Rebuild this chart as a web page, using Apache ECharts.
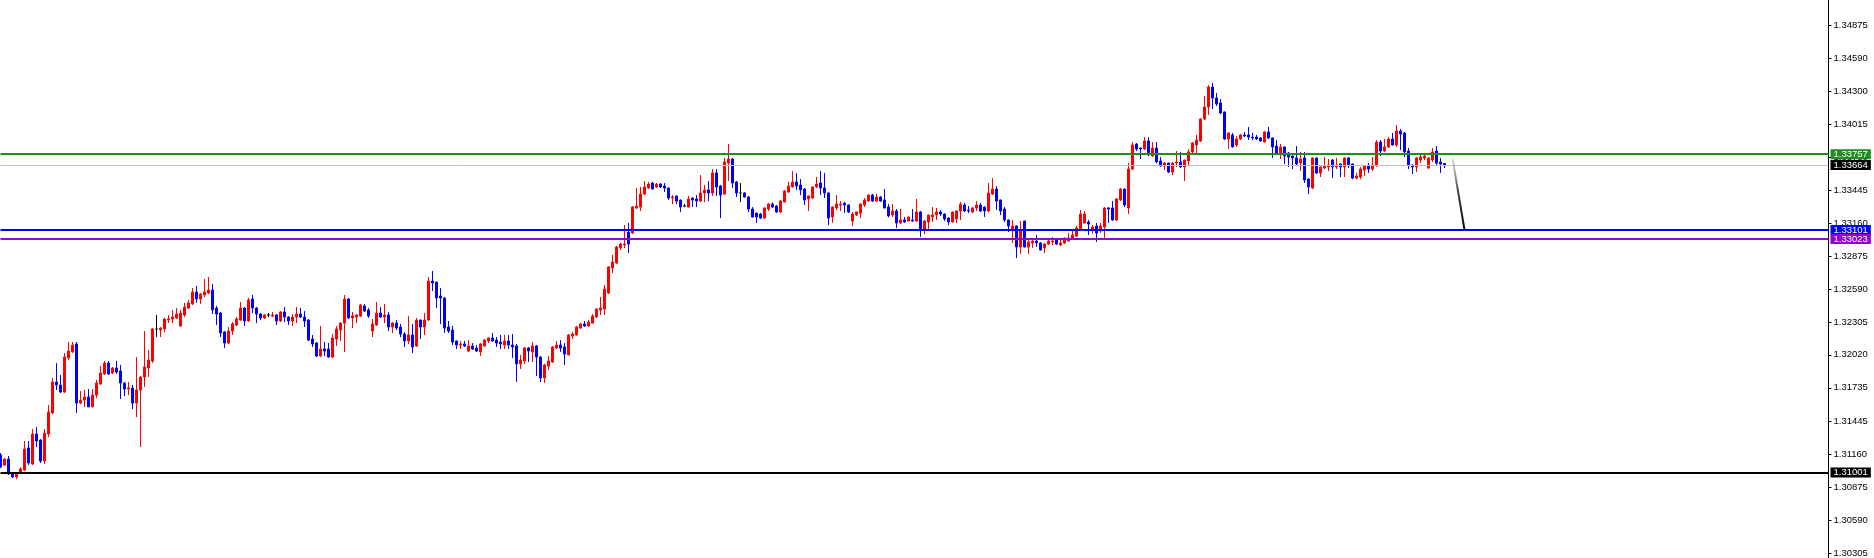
<!DOCTYPE html>
<html>
<head>
<meta charset="utf-8">
<script src="https://cdn.jsdelivr.net/npm/echarts@6/dist/echarts.min.js"></script>
<style>
html,body{margin:0;padding:0;background:#ffffff;}
#chart{width:1874px;height:558px;}
</style>
</head>
<body>
<div id="chart"></div>
<script>
// [open, close, low, high]
const candles = [
[1.31153,1.31049,1.31040,1.31170],[1.31066,1.31118,1.31058,1.31127],[1.31118,1.30989,1.30980,1.31144],[1.30997,1.30963,1.30954,1.31006],
[1.30963,1.30989,1.30945,1.31006],[1.30997,1.31032,1.30989,1.31049],[1.31023,1.31205,1.31015,1.31274],[1.31214,1.31084,1.31066,1.31274],
[1.31075,1.31335,1.31066,1.31378],[1.31335,1.31274,1.31222,1.31395],[1.31283,1.31101,1.31084,1.31292],[1.31101,1.31343,1.31075,1.31378],
[1.31335,1.31525,1.31309,1.31586],[1.31517,1.31785,1.31508,1.31820],[1.31785,1.31759,1.31716,1.31949],[1.31759,1.31698,1.31690,1.31845],
[1.31698,1.32001,1.31690,1.32036],[1.31993,1.32053,1.31975,1.32131],[1.32045,1.32105,1.32036,1.32131],[1.32114,1.31603,1.31517,1.32131],
[1.31603,1.31629,1.31594,1.31707],[1.31629,1.31655,1.31568,1.31716],[1.31655,1.31570,1.31568,1.31724],[1.31570,1.31672,1.31568,1.31724],
[1.31672,1.31776,1.31646,1.31802],[1.31768,1.31863,1.31759,1.31923],[1.31854,1.31949,1.31845,1.31967],[1.31949,1.31854,1.31845,1.31967],
[1.31863,1.31906,1.31854,1.31915],[1.31906,1.31871,1.31854,1.31967],[1.31880,1.31776,1.31638,1.31932],[1.31776,1.31724,1.31664,1.31785],
[1.31724,1.31733,1.31672,1.31785],[1.31733,1.31603,1.31551,1.31759],[1.31603,1.31716,1.31482,1.32001],[1.31716,1.31828,1.31222,1.31837],
[1.31828,1.31915,1.31742,1.32226],[1.31906,1.31975,1.31828,1.32062],[1.31967,1.32244,1.31949,1.32252],[1.32244,1.32244,1.32174,1.32365],
[1.32235,1.32252,1.32174,1.32261],[1.32244,1.32330,1.32218,1.32339],[1.32321,1.32330,1.32295,1.32365],[1.32330,1.32347,1.32295,1.32408],
[1.32339,1.32373,1.32330,1.32425],[1.32270,1.32382,1.32261,1.32408],[1.32365,1.32434,1.32347,1.32469],[1.32425,1.32469,1.32417,1.32495],
[1.32460,1.32564,1.32451,1.32598],[1.32564,1.32503,1.32469,1.32616],[1.32503,1.32546,1.32460,1.32555],[1.32538,1.32564,1.32520,1.32676],
[1.32555,1.32581,1.32546,1.32694],[1.32581,1.32408,1.32373,1.32633],[1.32425,1.32373,1.32278,1.32443],[1.32382,1.32209,1.32174,1.32391],
[1.32218,1.32122,1.32079,1.32226],[1.32122,1.32226,1.32114,1.32261],[1.32226,1.32287,1.32192,1.32304],[1.32278,1.32330,1.32270,1.32347],
[1.32321,1.32425,1.32313,1.32477],[1.32425,1.32313,1.32270,1.32434],[1.32313,1.32495,1.32304,1.32512],[1.32503,1.32425,1.32382,1.32538],
[1.32425,1.32373,1.32295,1.32434],[1.32373,1.32339,1.32321,1.32382],[1.32339,1.32365,1.32330,1.32373],[1.32365,1.32365,1.32347,1.32382],
[1.32356,1.32365,1.32347,1.32391],[1.32365,1.32313,1.32278,1.32373],[1.32313,1.32391,1.32304,1.32399],[1.32391,1.32347,1.32304,1.32434],
[1.32347,1.32313,1.32278,1.32356],[1.32313,1.32347,1.32270,1.32373],[1.32347,1.32373,1.32295,1.32434],[1.32373,1.32347,1.32339,1.32425],
[1.32347,1.32313,1.32261,1.32399],[1.32321,1.32148,1.32140,1.32330],[1.32157,1.32114,1.32088,1.32192],[1.32122,1.32010,1.32001,1.32131],
[1.32010,1.32070,1.32001,1.32270],[1.32070,1.32053,1.32010,1.32131],[1.32070,1.32001,1.31993,1.32122],[1.32001,1.32166,1.31993,1.32200],
[1.32157,1.32244,1.32097,1.32270],[1.32235,1.32295,1.32140,1.32304],[1.32295,1.32503,1.32045,1.32538],[1.32503,1.32339,1.32330,1.32512],
[1.32339,1.32356,1.32252,1.32391],[1.32347,1.32365,1.32295,1.32373],[1.32356,1.32451,1.32347,1.32460],[1.32443,1.32399,1.32391,1.32460],
[1.32408,1.32356,1.32339,1.32425],[1.32226,1.32287,1.32174,1.32330],[1.32278,1.32382,1.32270,1.32477],[1.32382,1.32347,1.32339,1.32434],
[1.32347,1.32365,1.32295,1.32460],[1.32365,1.32261,1.32226,1.32391],[1.32261,1.32295,1.32209,1.32304],[1.32295,1.32252,1.32235,1.32321],
[1.32261,1.32200,1.32174,1.32287],[1.32200,1.32140,1.32088,1.32218],[1.32140,1.32192,1.32114,1.32356],[1.32192,1.32088,1.32036,1.32287],
[1.32097,1.32321,1.32088,1.32339],[1.32321,1.32261,1.32157,1.32326],[1.32261,1.32321,1.32192,1.32382],[1.32321,1.32659,1.32313,1.32694],
[1.32659,1.32642,1.32572,1.32746],[1.32650,1.32512,1.32425,1.32653],[1.32529,1.32512,1.32287,1.32598],[1.32512,1.32252,1.32209,1.32520],
[1.32261,1.32226,1.32209,1.32313],[1.32235,1.32131,1.32105,1.32270],[1.32140,1.32105,1.32070,1.32144],[1.32105,1.32114,1.32070,1.32140],
[1.32114,1.32097,1.32088,1.32140],[1.32053,1.32097,1.32045,1.32148],[1.32097,1.32070,1.32062,1.32122],[1.32079,1.32053,1.32045,1.32105],
[1.32045,1.32114,1.32010,1.32122],[1.32097,1.32148,1.32088,1.32157],[1.32140,1.32166,1.32122,1.32170],[1.32166,1.32140,1.32136,1.32209],
[1.32148,1.32122,1.32088,1.32174],[1.32131,1.32114,1.32070,1.32192],[1.32105,1.32140,1.32070,1.32192],[1.32140,1.32105,1.32070,1.32192],
[1.32105,1.32088,1.31993,1.32200],[1.32097,1.31941,1.31785,1.32114],[1.31941,1.31975,1.31897,1.32019],[1.31967,1.32079,1.31941,1.32088],
[1.32079,1.32053,1.31958,1.32088],[1.32045,1.32097,1.31958,1.32131],[1.32097,1.32001,1.31837,1.32105],[1.32001,1.31820,1.31785,1.32010],
[1.31820,1.31932,1.31776,1.31941],[1.31923,1.31967,1.31889,1.32010],[1.31958,1.32088,1.31949,1.32097],[1.32079,1.32105,1.32070,1.32140],
[1.32105,1.32079,1.32045,1.32148],[1.32088,1.32027,1.31932,1.32122],[1.32019,1.32192,1.32015,1.32200],[1.32183,1.32200,1.32157,1.32218],
[1.32192,1.32261,1.32188,1.32270],[1.32252,1.32287,1.32244,1.32295],[1.32287,1.32270,1.32261,1.32313],[1.32270,1.32304,1.32261,1.32321],
[1.32295,1.32356,1.32291,1.32373],[1.32347,1.32417,1.32339,1.32420],[1.32408,1.32425,1.32365,1.32520],[1.32417,1.32590,1.32365,1.32624],
[1.32555,1.32780,1.32546,1.32789],[1.32772,1.32823,1.32728,1.32884],[1.32815,1.32953,1.32806,1.32962],[1.32945,1.32979,1.32927,1.32988],
[1.32971,1.32979,1.32945,1.33144],[1.33083,1.32979,1.32901,1.33161],[1.33074,1.33299,1.33066,1.33308],[1.33291,1.33308,1.33282,1.33464],
[1.33299,1.33412,1.33265,1.33473],[1.33412,1.33473,1.33403,1.33524],[1.33464,1.33498,1.33455,1.33516],[1.33507,1.33455,1.33450,1.33516],
[1.33473,1.33498,1.33464,1.33507],[1.33498,1.33473,1.33464,1.33507],[1.33481,1.33464,1.33429,1.33507],[1.33464,1.33377,1.33360,1.33468],
[1.33377,1.33386,1.33325,1.33403],[1.33395,1.33351,1.33325,1.33399],[1.33360,1.33299,1.33256,1.33364],[1.33308,1.33308,1.33299,1.33325],
[1.33299,1.33369,1.33295,1.33395],[1.33377,1.33360,1.33299,1.33381],[1.33369,1.33351,1.33299,1.33403],[1.33351,1.33421,1.33343,1.33576],
[1.33421,1.33447,1.33343,1.33490],[1.33447,1.33421,1.33351,1.33524],[1.33421,1.33594,1.33395,1.33628],[1.33594,1.33473,1.33395,1.33628],
[1.33481,1.33403,1.33204,1.33490],[1.33412,1.33689,1.33403,1.33724],[1.33680,1.33715,1.33524,1.33845],[1.33715,1.33507,1.33464,1.33724],
[1.33516,1.33421,1.33386,1.33524],[1.33421,1.33421,1.33343,1.33507],[1.33421,1.33386,1.33382,1.33429],[1.33386,1.33282,1.33256,1.33395],
[1.33282,1.33213,1.33210,1.33299],[1.33247,1.33213,1.33161,1.33250],[1.33239,1.33204,1.33195,1.33247],[1.33204,1.33291,1.33200,1.33295],
[1.33282,1.33325,1.33265,1.33334],[1.33325,1.33299,1.33291,1.33340],[1.33308,1.33256,1.33247,1.33317],[1.33256,1.33351,1.33247,1.33360],
[1.33343,1.33438,1.33338,1.33447],[1.33429,1.33481,1.33421,1.33516],[1.33473,1.33516,1.33468,1.33611],[1.33516,1.33481,1.33447,1.33594],
[1.33490,1.33447,1.33403,1.33542],[1.33455,1.33360,1.33317,1.33464],[1.33369,1.33395,1.33265,1.33399],[1.33377,1.33473,1.33369,1.33477],
[1.33473,1.33498,1.33464,1.33559],[1.33507,1.33464,1.33403,1.33611],[1.33464,1.33421,1.33377,1.33594],[1.33421,1.33204,1.33144,1.33425],
[1.33213,1.33299,1.33161,1.33304],[1.33291,1.33325,1.33273,1.33403],[1.33317,1.33325,1.33265,1.33351],[1.33334,1.33317,1.33247,1.33338],
[1.33317,1.33256,1.33247,1.33321],[1.33178,1.33239,1.33135,1.33256],[1.33230,1.33256,1.33221,1.33260],[1.33247,1.33325,1.33204,1.33330],
[1.33317,1.33360,1.33299,1.33377],[1.33351,1.33403,1.33347,1.33408],[1.33403,1.33351,1.33343,1.33412],[1.33351,1.33386,1.33343,1.33412],
[1.33386,1.33351,1.33343,1.33395],[1.33360,1.33291,1.33287,1.33455],[1.33299,1.33222,1.33210,1.33325],[1.33230,1.33265,1.33213,1.33325],
[1.33265,1.33161,1.33118,1.33282],[1.33161,1.33187,1.33152,1.33282],[1.33187,1.33170,1.33161,1.33213],[1.33178,1.33213,1.33174,1.33217],
[1.33187,1.33178,1.33170,1.33282],[1.33178,1.33256,1.33170,1.33369],[1.33256,1.33100,1.33040,1.33265],[1.33109,1.33178,1.33066,1.33187],
[1.33170,1.33230,1.33109,1.33234],[1.33213,1.33230,1.33170,1.33299],[1.33230,1.33256,1.33187,1.33291],[1.33256,1.33239,1.33222,1.33273],
[1.33239,1.33196,1.33178,1.33243],[1.33204,1.33170,1.33144,1.33213],[1.33170,1.33256,1.33165,1.33260],[1.33196,1.33265,1.33161,1.33269],
[1.33265,1.33325,1.33187,1.33343],[1.33317,1.33265,1.33256,1.33334],[1.33273,1.33265,1.33247,1.33308],[1.33256,1.33291,1.33247,1.33299],
[1.33291,1.33317,1.33265,1.33351],[1.33317,1.33265,1.33256,1.33334],[1.33299,1.33265,1.33213,1.33304],[1.33265,1.33421,1.33256,1.33507],
[1.33412,1.33455,1.33403,1.33550],[1.33455,1.33351,1.33273,1.33481],[1.33360,1.33265,1.33230,1.33364],[1.33282,1.33187,1.33170,1.33299],
[1.33187,1.33135,1.33083,1.33191],[1.33100,1.33135,1.32988,1.33187],[1.33135,1.32953,1.32858,1.33139],[1.32953,1.33100,1.32893,1.33178],
[1.33178,1.32953,1.32950,1.33182],[1.32953,1.32997,1.32893,1.33014],[1.32988,1.33005,1.32945,1.33014],[1.33005,1.32988,1.32953,1.33057],
[1.32988,1.32927,1.32925,1.32997],[1.32945,1.32979,1.32901,1.32988],[1.32979,1.33005,1.32971,1.33031],[1.32997,1.33005,1.32971,1.33040],
[1.33022,1.32979,1.32971,1.33031],[1.32971,1.32988,1.32962,1.33031],[1.32988,1.33031,1.32979,1.33035],[1.33005,1.33031,1.33001,1.33074],
[1.33031,1.33057,1.33014,1.33092],[1.33048,1.33118,1.33040,1.33135],[1.33109,1.33239,1.33105,1.33273],[1.33161,1.33239,1.33157,1.33265],
[1.33170,1.33152,1.33057,1.33187],[1.33100,1.33126,1.33066,1.33144],[1.33135,1.33074,1.32997,1.33161],[1.33092,1.33135,1.33074,1.33161],
[1.33126,1.33291,1.33031,1.33299],[1.33291,1.33282,1.33161,1.33299],[1.33291,1.33187,1.33178,1.33351],[1.33187,1.33369,1.33178,1.33377],
[1.33360,1.33455,1.33351,1.33464],[1.33455,1.33317,1.33299,1.33459],[1.33291,1.33628,1.33239,1.33680],[1.33628,1.33836,1.33620,1.33862],
[1.33845,1.33801,1.33784,1.33853],[1.33810,1.33801,1.33715,1.33814],[1.33801,1.33871,1.33793,1.33905],[1.33871,1.33750,1.33741,1.33905],
[1.33741,1.33810,1.33732,1.33862],[1.33810,1.33689,1.33680,1.33862],[1.33698,1.33654,1.33646,1.33732],[1.33654,1.33680,1.33620,1.33689],
[1.33680,1.33602,1.33594,1.33684],[1.33602,1.33680,1.33576,1.33684],[1.33680,1.33689,1.33646,1.33784],[1.33689,1.33646,1.33641,1.33776],
[1.33646,1.33706,1.33524,1.33710],[1.33698,1.33776,1.33663,1.33801],[1.33776,1.33853,1.33767,1.33862],[1.33836,1.33879,1.33767,1.33923],
[1.33871,1.34061,1.33862,1.34065],[1.34061,1.34165,1.34052,1.34260],[1.34165,1.34338,1.34096,1.34355],[1.34338,1.34243,1.34148,1.34373],
[1.34243,1.34191,1.34174,1.34286],[1.34200,1.34113,1.34104,1.34234],[1.34122,1.33888,1.33879,1.34126],[1.33888,1.33940,1.33801,1.33944],
[1.33923,1.33819,1.33815,1.33940],[1.33836,1.33888,1.33819,1.33914],[1.33888,1.33923,1.33879,1.33931],[1.33923,1.33914,1.33905,1.33949],
[1.33923,1.33905,1.33879,1.33992],[1.33905,1.33897,1.33879,1.33940],[1.33905,1.33888,1.33879,1.33923],[1.33897,1.33871,1.33866,1.33905],
[1.33862,1.33949,1.33858,1.33957],[1.33949,1.33897,1.33888,1.33992],[1.33897,1.33819,1.33724,1.33901],[1.33827,1.33758,1.33750,1.33879],
[1.33767,1.33819,1.33715,1.33845],[1.33819,1.33741,1.33672,1.33823],[1.33767,1.33732,1.33646,1.33776],[1.33741,1.33724,1.33628,1.33745],
[1.33724,1.33672,1.33654,1.33827],[1.33680,1.33715,1.33611,1.33776],[1.33724,1.33533,1.33507,1.33776],[1.33542,1.33473,1.33412,1.33546],
[1.33464,1.33724,1.33455,1.33728],[1.33724,1.33594,1.33585,1.33728],[1.33594,1.33646,1.33559,1.33650],[1.33637,1.33654,1.33628,1.33732],
[1.33646,1.33663,1.33611,1.33715],[1.33706,1.33646,1.33550,1.33715],[1.33646,1.33663,1.33628,1.33724],[1.33672,1.33646,1.33559,1.33676],
[1.33646,1.33724,1.33559,1.33728],[1.33724,1.33663,1.33637,1.33732],[1.33672,1.33550,1.33539,1.33676],[1.33550,1.33568,1.33539,1.33594],
[1.33559,1.33628,1.33539,1.33646],[1.33620,1.33654,1.33568,1.33663],[1.33654,1.33628,1.33594,1.33680],[1.33628,1.33663,1.33611,1.33732],
[1.33654,1.33862,1.33650,1.33879],[1.33862,1.33784,1.33741,1.33879],[1.33784,1.33819,1.33776,1.33888],[1.33819,1.33888,1.33810,1.33905],
[1.33888,1.33836,1.33832,1.33940],[1.33836,1.33957,1.33819,1.34009],[1.33957,1.33931,1.33793,1.33975],[1.33940,1.33776,1.33732,1.33949],
[1.33784,1.33663,1.33628,1.33810],[1.33663,1.33646,1.33585,1.33667],[1.33646,1.33724,1.33602,1.33732],[1.33706,1.33732,1.33680,1.33750],
[1.33724,1.33741,1.33706,1.33767],[1.33637,1.33724,1.33628,1.33728],[1.33706,1.33776,1.33689,1.33810],[1.33784,1.33680,1.33654,1.33827],
[1.33689,1.33672,1.33594,1.33724],[1.33676,1.33664,1.33637,1.33680]
];

// total bar slots on the time axis (includes the empty "chart shift" area on the right)
const slotCount = 458;
const categories = Array.from({length: slotCount}, (_, i) => String(i));

// price-axis tick labels
const yTicks = [1.30305,1.30590,1.30875,1.31160,1.31445,1.31735,1.32020,1.32305,1.32590,1.32875,1.33160,1.33445,1.33730,1.34015,1.34300,1.34590,1.34875];
const yMin = 1.30262;
const yMax = 1.35091;

// horizontal levels
const levelPrices = [1.33664, 1.33757, 1.33101, 1.33023, 1.31001];
const levelLineColors = ['#C0C0C0', '#228B22', '#0000FF', '#9400D3', '#000000'];
const levelBoxColors = ['#000000', '#228B22', '#0000FF', '#9400D3', '#000000'];
const levelWidths = [1, 2, 2, 2, 2];

// projected arrow (slot index, price)
const arrowSlots = ['363', '366'];
const arrowPrices = [1.33721, 1.33101];

const chart = echarts.init(document.getElementById('chart'), null, {renderer: 'canvas'});

const candleData = candles.map(c => c[0] === c[1]
  ? {value: c, itemStyle: {color: '#000000', color0: '#000000', borderColor: '#000000', borderColor0: '#000000'}}
  : c);

const labelFont = 'Liberation Sans, Arial, sans-serif';

const option = {
  backgroundColor: '#ffffff',
  animation: false,
  grid: {left: 0.5, right: 45.5, top: 0, bottom: 0, containLabel: false},
  xAxis: {
    type: 'category',
    data: categories,
    boundaryGap: false,
    show: false
  },
  yAxis: {
    type: 'value',
    position: 'right',
    min: yMin,
    max: yMax,
    axisLine: {show: true, lineStyle: {color: '#000000', width: 1}},
    axisTick: {show: true, length: 3, lineStyle: {color: '#000000', width: 1}, customValues: yTicks},
    axisLabel: {
      show: true,
      customValues: yTicks,
      formatter: v => Number(v).toFixed(5),
      color: '#000000',
      fontSize: 9.5,
      fontFamily: labelFont,
      margin: 5
    },
    splitLine: {show: false}
  },
  series: [
    {
      type: 'candlestick',
      data: candleData,
      barWidth: 2,
      itemStyle: {
        color: '#FF0000',
        color0: '#0000FF',
        borderColor: '#FF0000',
        borderColor0: '#0000FF',
        borderColorDoji: '#000000',
        borderWidth: 1
      },
      markLine: {
        silent: true,
        animation: false,
        precision: 5,
        symbol: ['none', 'none'],
        data: levelPrices.map((v, i) => ({
          yAxis: v,
          lineStyle: {color: levelLineColors[i], width: levelWidths[i], type: 'solid'},
          label: {
            show: true,
            position: 'end',
            formatter: v.toFixed(5),
            color: '#ffffff',
            backgroundColor: levelBoxColors[i],
            padding: [1, 3, 0, 3],
            fontSize: 9.5,
            lineHeight: 9,
            fontFamily: labelFont,
            distance: 2
          },
          emphasis: {disabled: true}
        }))
      }
    },
    {
      type: 'line',
      data: arrowSlots.map((s, i) => [s, arrowPrices[i]]),
      symbol: 'none',
      silent: true,
      z: 5,
      lineStyle: {
        width: 2,
        color: new echarts.graphic.LinearGradient(0, 0, 0, 1, [
          {offset: 0, color: 'rgba(200,200,200,0.5)'},
          {offset: 0.45, color: 'rgba(50,50,50,0.9)'},
          {offset: 1, color: '#000000'}
        ])
      }
    }
  ]
};

chart.setOption(option);
</script>
</body>
</html>
